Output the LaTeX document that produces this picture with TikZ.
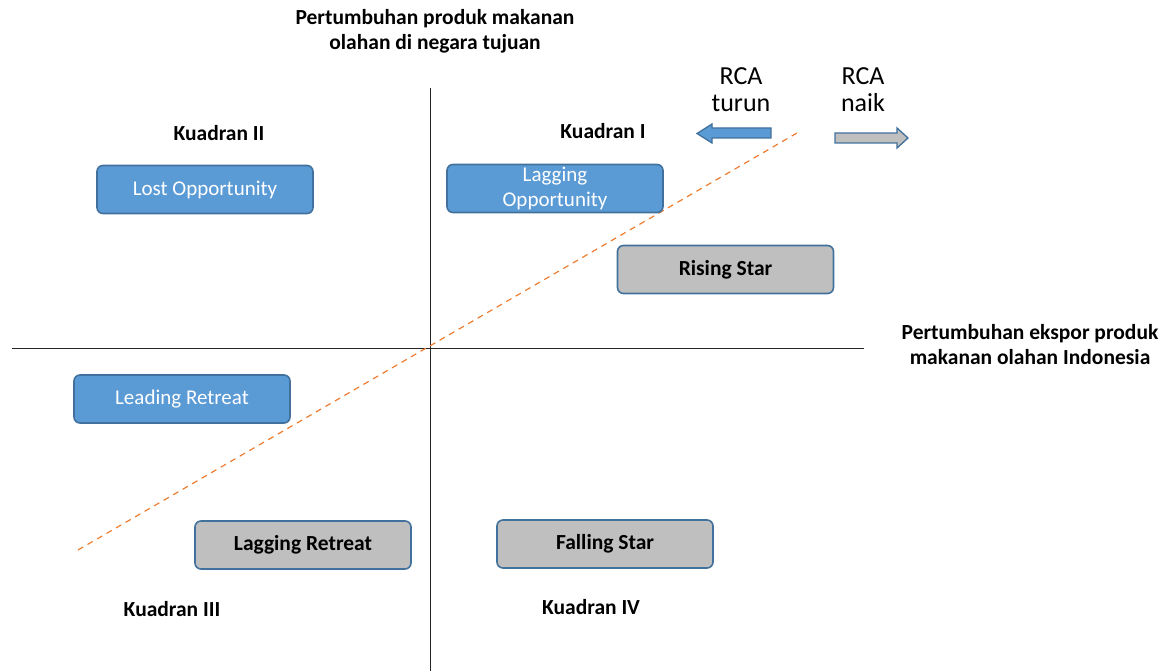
\documentclass[tikz,border=0pt]{standalone}
\usepackage{fontspec}
\setmainfont{Carlito}
\definecolor{bluefill}{HTML}{5B9BD5}
\definecolor{blueedge}{HTML}{41719C}
\definecolor{greyfill}{HTML}{BFBFBF}
\definecolor{dashorange}{HTML}{ED7D31}
\tikzset{
  quadbox/.style={draw=blueedge, line width=1.6pt, rounded corners=6pt, minimum width=216pt, minimum height=48pt, inner sep=0pt, align=center},
  bluebox/.style={quadbox, fill=bluefill, text=white, font=\fontsize{21}{25}\selectfont},
  greybox/.style={quadbox, fill=greyfill, text=black, font=\fontsize{21.5}{25}\selectfont\bfseries},
  lbl/.style={font=\fontsize{21.5}{25}\selectfont\bfseries, align=center, inner sep=0pt},
  rca/.style={font=\fontsize{26}{27}\selectfont, align=center, inner sep=0pt},
  axis/.style={line width=0.9pt, black!85},
  rcaarrow/.style={draw=blueedge, line width=1.3pt, line join=miter}
}
\begin{document}
\begin{tikzpicture}[x=1pt,y=-1pt]
\useasboundingbox (0,0) rectangle (1175,671);
% axes
\coordinate (vtop) at (430,88);
\coordinate (vbot) at (430,671);
\coordinate (hleft) at (12,348);
\coordinate (hright) at (864,348);
\draw[axis] (vtop) -- (vbot);
\draw[axis] (hleft) -- (hright);
% dashed diagonal
\coordinate (dstart) at (78,550);
\coordinate (dend) at (797,133);
\draw[dashorange, line width=1.2pt, dash pattern=on 6pt off 5pt] (dstart) -- (dend);
% axis titles
\node[lbl] (ytitle) at (435,31) {Pertumbuhan produk makanan\\olahan di negara tujuan};
\node[lbl] (xtitle) at (1030,345) {Pertumbuhan ekspor produk\\makanan olahan Indonesia};
% quadrant labels
\node[lbl] (q2) at (219,133) {Kuadran II};
\node[lbl] (q1) at (603,131) {Kuadran I};
\node[lbl] (q3) at (172,609) {Kuadran III};
\node[lbl] (q4) at (591,607) {Kuadran IV};
% RCA
\node[rca] (rcaturun) at (741,90) {RCA\\turun};
\node[rca] (rcanaik) at (863,90) {RCA\\naik};
\draw[rcaarrow, fill=bluefill] (771,128) -- (712,128) -- (712,124) -- (697,133.5) -- (712,143) -- (712,138) -- (771,138) -- cycle;
\draw[rcaarrow, fill=greyfill] (835,133) -- (897,133) -- (897,128) -- (908,138) -- (897,148) -- (897,143) -- (835,143) -- cycle;
% boxes
\node[bluebox] (lost) at (205,189.5) {Lost Opportunity};
\node[bluebox] (lagopp) at (555,188.5) {Lagging\\Opportunity};
\node[greybox] (rising) at (725.5,269.5) {Rising Star};
\node[bluebox] (leading) at (182,399) {Leading Retreat};
\node[greybox] (lagret) at (303,545) {Lagging Retreat};
\node[greybox] (falling) at (605,544) {Falling Star};
\end{tikzpicture}
\end{document}
